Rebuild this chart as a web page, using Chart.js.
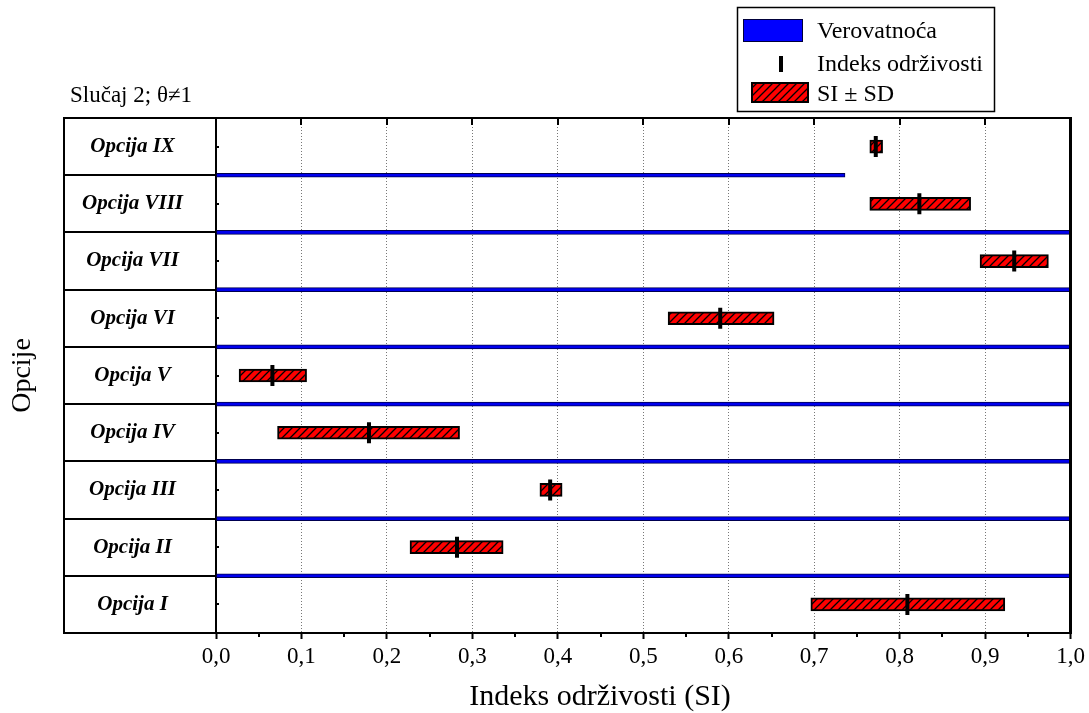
<!DOCTYPE html>
<html>
<head>
<meta charset="utf-8">
<title>Indeks održivosti – Slučaj 2</title>
<script src="https://cdn.jsdelivr.net/npm/chart.js@4.4.0/dist/chart.umd.min.js"></script>
<style>
  html, body { margin: 0; padding: 0; background: #fff; }
  #wrap { width: 1089px; height: 713px; }
</style>
</head>
<body>
<div id="wrap"><canvas id="siChart" width="1089" height="713"></canvas></div>
<script>
// options, bottom row first
const optionNames = ['Opcija I', 'Opcija II', 'Opcija III', 'Opcija IV', 'Opcija V',
                     'Opcija VI', 'Opcija VII', 'Opcija VIII', 'Opcija IX'];
const siValues = [0.809, 0.282, 0.391, 0.179, 0.066, 0.590, 0.934, 0.823, 0.772];
const siLow    = [0.696, 0.227, 0.379, 0.072, 0.027, 0.529, 0.894, 0.765, 0.765];
const siHigh   = [0.923, 0.336, 0.405, 0.285, 0.106, 0.653, 0.974, 0.883, 0.780];

// probability lines sit on the row borders
const probPositions = [0.5, 1.5, 2.5, 3.5, 4.5, 5.5, 6.5, 7.5];
const probValues    = [1.0, 1.0, 1.0, 1.0, 1.0, 1.0, 1.0, 0.736];

const xTickValues = [0, 0.1, 0.2, 0.3, 0.4, 0.5, 0.6, 0.7, 0.8, 0.9, 1.0];

const SERIF = "'Liberation Serif', 'Times New Roman', serif";

document.addEventListener('DOMContentLoaded', () => {
  const canvas = document.getElementById('siChart');
  const ctx2d = canvas.getContext('2d');

  // red fill with black "/" hatching
  const makeHatch = (size) => {
    const c = document.createElement('canvas');
    c.width = c.height = size;
    const g = c.getContext('2d');
    g.fillStyle = '#ff0000';
    g.fillRect(0, 0, size, size);
    g.strokeStyle = '#000';
    g.lineWidth = 1.3;
    g.beginPath();
    g.moveTo(0, size); g.lineTo(size, 0);
    g.moveTo(-1, 1); g.lineTo(1, -1);
    g.moveTo(size - 1, size + 1); g.lineTo(size + 1, size - 1);
    g.stroke();
    return ctx2d.createPattern(c, 'repeat');
  };
  const hatch = makeHatch(8);

  // label column, frame, extra ticks, texts and legend
  const framePlugin = {
    id: 'framePlugin',
    afterDraw(chart) {
      const { ctx, chartArea: a, scales: { x, y } } = chart;
      const colLeft = 64;
      ctx.save();
      ctx.strokeStyle = '#000';
      ctx.lineWidth = 2;
      ctx.beginPath();
      for (let i = -1; i < optionNames.length; i++) {
        const py = Math.round(y.getPixelForValue(i + 0.5));
        ctx.moveTo(colLeft, py);
        ctx.lineTo(a.left, py);
      }
      ctx.moveTo(colLeft - 1, Math.round(a.top));
      ctx.lineTo(a.right, Math.round(a.top));
      ctx.moveTo(colLeft, a.top);
      ctx.lineTo(colLeft, a.bottom + 1);
      // inward ticks on top edge
      xTickValues.slice(1, -1).forEach(v => {
        const px = Math.round(x.getPixelForValue(v));
        ctx.moveTo(px, a.top);
        ctx.lineTo(px, a.top + 7);
      });
      // minor ticks under the axis
      for (let k = 0; k < 10; k++) {
        const px = Math.round(x.getPixelForValue(k / 10 + 0.05));
        ctx.moveTo(px, a.bottom);
        ctx.lineTo(px, a.bottom + 4);
      }
      // small inner ticks on the left axis
      optionNames.forEach((_, i) => {
        const py = Math.round(y.getPixelForValue(i));
        ctx.moveTo(a.left, py);
        ctx.lineTo(a.left + 3, py);
      });
      ctx.stroke();

      ctx.lineWidth = 3;
      ctx.beginPath();
      ctx.moveTo(Math.round(a.right) - 0.5, a.top - 1);
      ctx.lineTo(Math.round(a.right) - 0.5, a.bottom + 1);
      ctx.stroke();

      // texts
      ctx.fillStyle = '#000';
      ctx.textBaseline = 'alphabetic';
      ctx.textAlign = 'left';
      ctx.font = `23px ${SERIF}`;
      ctx.fillText('Slučaj 2; θ≠1', 70, 102);
      ctx.textAlign = 'center';
      ctx.font = `30px ${SERIF}`;
      ctx.fillText('Indeks održivosti (SI)', 600, 705);

      // legend
      ctx.lineWidth = 1.5;
      ctx.strokeRect(737.5, 7.5, 257, 104);
      ctx.fillStyle = '#0000ff';
      ctx.fillRect(743, 19, 60, 23);
      ctx.strokeStyle = '#00003a';
      ctx.lineWidth = 1;
      ctx.strokeRect(743.5, 19.5, 59, 22);
      ctx.fillStyle = '#000';
      ctx.fillRect(779, 56, 4, 16);
      ctx.fillStyle = hatch;
      ctx.fillRect(752, 83, 56, 19);
      ctx.strokeStyle = '#000';
      ctx.lineWidth = 2;
      ctx.strokeRect(752, 83, 56, 19);
      ctx.fillStyle = '#000';
      ctx.textAlign = 'left';
      ctx.font = `24px ${SERIF}`;
      ctx.fillText('Verovatnoća', 817, 38);
      ctx.fillText('Indeks održivosti', 817, 71);
      ctx.fillText('SI ± SD', 817, 101);
      ctx.restore();
    }
  };

  new Chart(ctx2d, {
    type: 'bar',
    data: {
      datasets: [
        {
          type: 'bar',
          label: 'Verovatnoća',
          indexAxis: 'y',
          grouped: false,
          data: probPositions.map((p, i) => ({ x: [0, probValues[i]], y: p })),
          backgroundColor: '#0000ee',
          borderColor: '#000050',
          borderWidth: 1,
          borderSkipped: false,
          barThickness: 4,
          order: 3
        },
        {
          type: 'bar',
          label: 'SI ± SD',
          indexAxis: 'y',
          grouped: false,
          data: optionNames.map((_, i) => ({ x: [siLow[i], siHigh[i]], y: i })),
          backgroundColor: hatch,
          borderColor: '#000',
          borderWidth: 2,
          borderSkipped: false,
          barThickness: 13,
          order: 2
        },
        {
          type: 'scatter',
          label: 'Indeks održivosti',
          data: siValues.map((v, i) => ({ x: v, y: i })),
          pointStyle: 'line',
          rotation: 90,
          radius: 10.5,
          hoverRadius: 10.5,
          borderWidth: 4,
          borderColor: '#000',
          backgroundColor: '#000',
          order: 1
        }
      ]
    },
    options: {
      responsive: false,
      animation: false,
      events: [],
      layout: { padding: { left: 0, top: 118, right: 18, bottom: 0 } },
      plugins: {
        legend: { display: false },
        tooltip: { enabled: false }
      },
      scales: {
        x: {
          type: 'linear',
          offset: false,
          min: 0,
          max: 1,
          afterBuildTicks: s => { s.ticks = xTickValues.map(v => ({ value: v })); },
          afterFit: s => { s.height = 80; },
          ticks: {
            color: '#000',
            padding: 4,
            maxRotation: 0,
            autoSkip: false,
            font: { family: SERIF, size: 23 },
            callback: v => Number(v).toFixed(1).replace('.', ',')
          },
          grid: {
            offset: false,
            color: c => (c.tick && (c.tick.value === 0 || c.tick.value === 1)) ? 'rgba(0,0,0,0)' : '#777',
            lineWidth: 1,
            tickColor: '#000',
            tickWidth: 2,
            tickLength: 6,
            tickBorderDash: []
          },
          border: { display: true, color: '#000', width: 2, dash: [1, 2] }
        },
        y: {
          type: 'linear',
          offset: false,
          min: -0.5,
          max: 8.5,
          afterBuildTicks: s => { s.ticks = optionNames.map((_, i) => ({ value: i })); },
          afterFit: s => { s.width = 216; },
          ticks: {
            color: '#000',
            crossAlign: 'center',
            padding: 33,
            autoSkip: false,
            font: { family: SERIF, size: 21, style: 'italic', weight: 'bold' },
            callback: v => optionNames[v]
          },
          grid: { offset: false, drawOnChartArea: false, drawTicks: false },
          border: { display: true, color: '#000', width: 2 },
          title: {
            display: true,
            text: 'Opcije',
            color: '#000',
            font: { family: SERIF, size: 28 },
            padding: { top: 6, bottom: 0 }
          }
        }
      }
    },
    plugins: [framePlugin]
  });
});
</script>
</body>
</html>
